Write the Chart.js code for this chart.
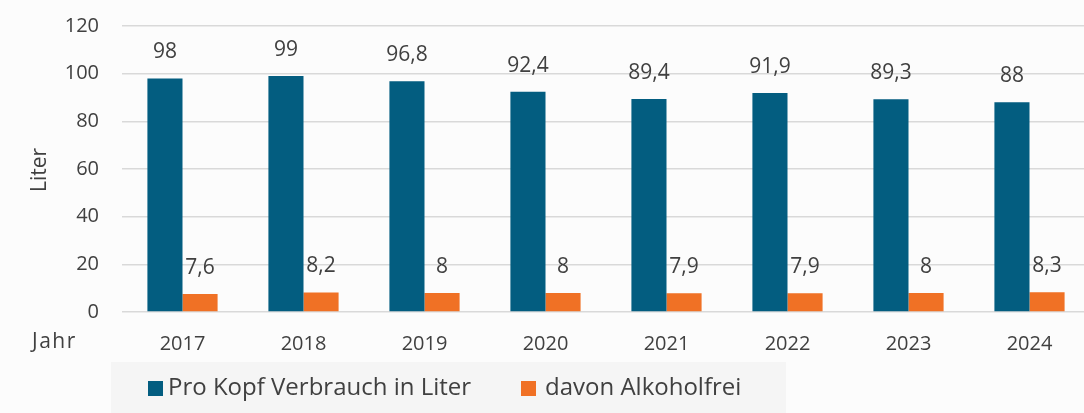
<!DOCTYPE html>
<html>
<head>
<meta charset="utf-8">
<script src="https://cdn.jsdelivr.net/npm/chart.js@4.4.1/dist/chart.umd.min.js"></script>
<style>
  html, body { margin: 0; padding: 0; background: #fcfcfc; overflow: hidden; width: 1084px; height: 413px; }
  #wrap { position: absolute; left: 0; top: 0; width: 1092px; height: 413px; }
</style>
</head>
<body>
<div id="wrap"><canvas id="c" width="1092" height="413"></canvas></div>
<script>
const years = ['2017', '2018', '2019', '2020', '2021', '2022', '2023', '2024'];
const proKopf = [98, 99, 96.8, 92.4, 89.4, 91.9, 89.3, 88];
const alkoholfrei = [7.6, 8.2, 8, 8, 7.9, 7.9, 8, 8.3];
const yTicks = [0, 20, 40, 60, 80, 100, 120];
const seriesNames = ['Pro Kopf Verbrauch in Liter', 'davon Alkoholfrei'];
const yTitle = 'Liter';
const xTitle = 'Jahr';

const BLUE = '#035d80';
const ORANGE = '#f07125';
const TEXT = '#404040';
const FONT = "'Open Sans', sans-serif";

const fmt = v => String(v).replace('.', ',');

const extras = {
  id: 'extras',
  beforeDraw(chart) {
    const ctx = chart.ctx;
    ctx.save();
    ctx.fillStyle = '#fcfcfc';
    ctx.fillRect(0, 0, chart.width, chart.height);
    ctx.fillStyle = '#f5f5f5';
    ctx.fillRect(111, 362, 675, 51);
    ctx.restore();
  },
  afterDraw(chart) {
    const ctx = chart.ctx;
    ctx.save();
    ctx.fillStyle = TEXT;
    ctx.font = '21px ' + FONT;
    ctx.textAlign = 'center';
    ctx.textBaseline = 'middle';
    chart.data.datasets.forEach((ds, di) => {
      const meta = chart.getDatasetMeta(di);
      meta.data.forEach((bar, i) => {
        ctx.fillText(fmt(ds.data[i]), bar.x, bar.y - 26);
      });
    });
    ctx.font = '21px ' + FONT;
    ctx.fillStyle = TEXT;
    ctx.save();
    ctx.translate(40, 170);
    ctx.rotate(-Math.PI / 2);
    ctx.textAlign = 'center';
    ctx.textBaseline = 'middle';
    ctx.fillText(yTitle, 0, 0);
    ctx.restore();
    ctx.font = '21px ' + FONT;
    ctx.textAlign = 'left';
    ctx.textBaseline = 'middle';
    if ('letterSpacing' in ctx) ctx.letterSpacing = '1.5px';
    ctx.fillText(xTitle, 32, 342);
    if ('letterSpacing' in ctx) ctx.letterSpacing = '0px';
    const items = [
      { name: seriesNames[0], color: BLUE, bx: 148, tx: 168, tw: 307 },
      { name: seriesNames[1], color: ORANGE, bx: 521, tx: 545, tw: 200 }
    ];
    ctx.font = '24px ' + FONT;
    ctx.textBaseline = 'middle';
    ctx.textAlign = 'left';
    items.forEach(it => {
      ctx.fillStyle = it.color;
      ctx.fillRect(it.bx, 381, 15, 15);
      ctx.fillStyle = TEXT;
      ctx.fillText(it.name, it.tx, 388, it.tw);
    });
    ctx.restore();
  }
};

const chart = new Chart(document.getElementById('c'), {
  type: 'bar',
  data: {
    labels: years,
    datasets: [
      { label: seriesNames[0], data: proKopf, backgroundColor: BLUE, borderWidth: 0 },
      { label: seriesNames[1], data: alkoholfrei, backgroundColor: ORANGE, borderWidth: 0 }
    ]
  },
  options: {
    responsive: false,
    animation: false,
    layout: { padding: { top: 26, right: 2, bottom: 0, left: 0 } },
    plugins: { legend: { display: false }, tooltip: { enabled: false } },
    datasets: { bar: { categoryPercentage: 0.58, barPercentage: 1.0 } },
    scales: {
      x: {
        grid: { display: false, drawTicks: false },
        border: { display: false },
        ticks: { color: TEXT, font: { family: FONT, size: 20 }, padding: 20, maxRotation: 0 },
        afterFit(scale) { scale.height = 101; scale.paddingLeft = 0; scale.paddingRight = 0; }
      },
      y: {
        min: 0, max: 120,
        afterBuildTicks(scale) { scale.ticks = yTicks.map(v => ({ value: v })); },
        grid: { color: '#d9d9d9', lineWidth: 1.5, drawTicks: false },
        border: { display: false },
        ticks: { color: TEXT, font: { family: FONT, size: 20 }, padding: 23 },
        afterFit(scale) { scale.width = 122; scale.paddingTop = 0; scale.paddingBottom = 0; }
      }
    }
  },
  plugins: [extras]
});
</script>
</body>
</html>
